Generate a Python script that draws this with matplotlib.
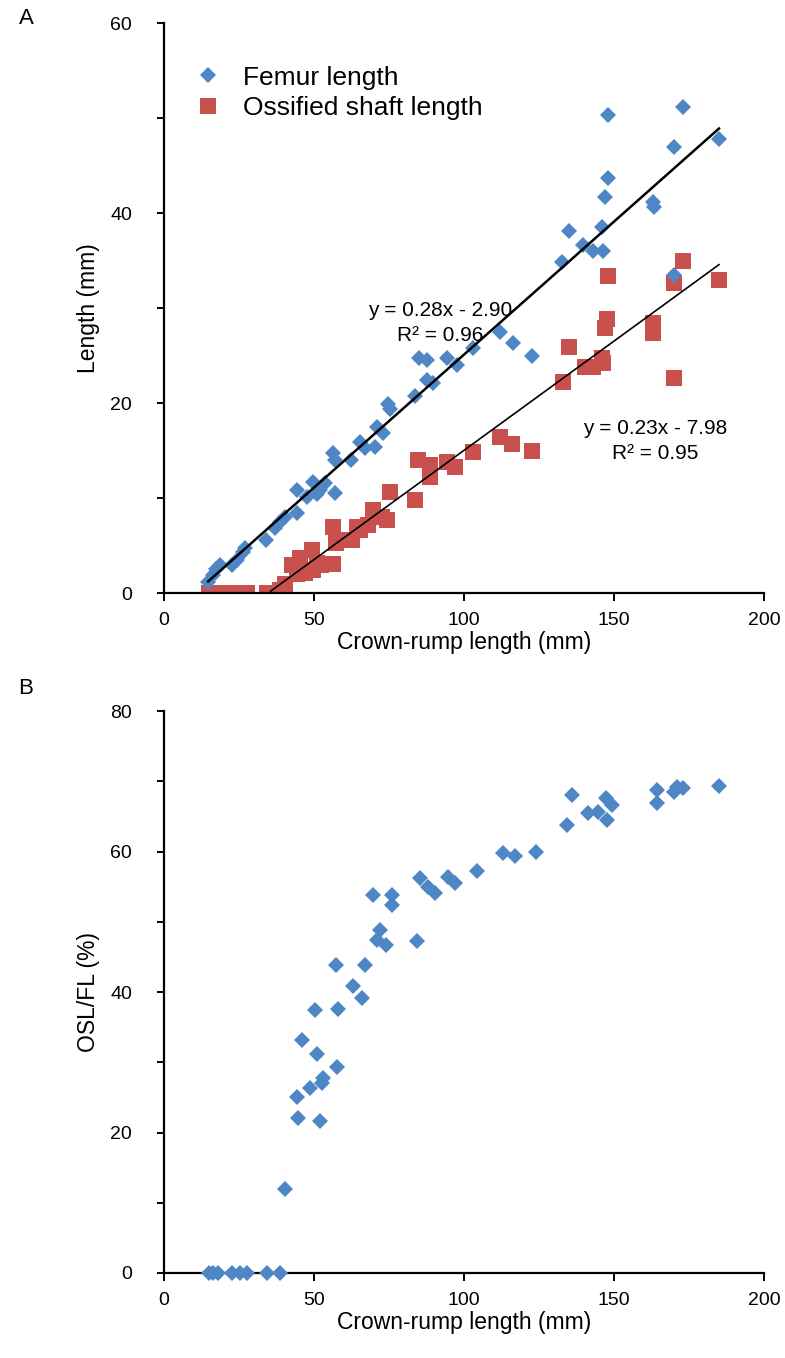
import matplotlib
matplotlib.use("Agg")
import matplotlib.pyplot as plt
import numpy as np

plt.rcParams['font.family'] = ['Liberation Sans', 'DejaVu Sans']

# ---- Panel A data: femur length (FL) vs crown-rump length (CRL) ----
crl_fl = [14.7, 16.3, 17.5, 18.7, 22.7, 24.5, 26.3, 27.0, 34.0, 37.0, 38.7, 40.3,
          44.3, 44.3, 47.7, 49.7, 51.0, 52.0, 53.7, 57.0, 56.3, 57.0, 62.5, 65.3,
          67.0, 70.3, 71.0, 73.0, 74.7, 75.3, 83.7, 85.0, 87.7, 87.7, 89.7, 94.3,
          97.7, 103.0, 112.0, 116.3, 122.7, 132.7, 135.0, 139.7, 143.0, 146.0,
          146.3, 147.0, 148.0, 148.0, 163.0, 163.3, 170.0, 170.0, 173.0, 185.0]
fl = [1.2, 1.9, 2.5, 2.9, 2.9, 3.5, 4.3, 4.7, 5.6, 6.8, 7.5, 8.0,
      8.4, 10.8, 10.1, 11.7, 10.4, 10.8, 11.6, 10.5, 14.7, 14.0, 14.0, 15.9,
      15.3, 15.4, 17.5, 16.8, 19.9, 19.4, 20.7, 24.7, 24.5, 22.4, 22.1, 24.7,
      24.0, 25.8, 27.5, 26.3, 25.0, 34.9, 38.1, 36.6, 36.0, 38.5,
      36.0, 41.7, 43.7, 50.3, 41.2, 40.6, 47.0, 33.5, 51.2, 47.8]

# ---- Panel A data: ossified shaft length (OSL) vs CRL ----
crl_osl = [15.0, 16.5, 18.0, 20.0, 22.7, 25.3, 27.7, 34.3, 38.7, 40.5, 42.7, 44.3,
           45.3, 47.0, 49.3, 49.7, 51.0, 52.5, 56.3, 56.3, 57.5, 59.3, 62.7, 64.3,
           65.3, 68.0, 69.7, 72.7, 74.3, 75.3, 83.7, 84.7, 88.7, 88.7, 94.3, 97.0,
           103.0, 112.0, 116.0, 122.7, 133.0, 135.0, 140.3, 143.0, 146.0, 146.3,
           147.0, 147.7, 148.0, 163.0, 163.0, 170.0, 170.0, 173.0, 185.0]
osl = [0.0, 0.0, 0.0, 0.0, 0.0, 0.0, 0.0, 0.0, 0.3, 1.0, 2.9, 2.0,
       3.7, 2.1, 4.5, 2.4, 3.2, 3.0, 6.9, 3.1, 5.3, 5.6, 5.6, 6.9,
       6.6, 7.2, 8.7, 8.0, 7.7, 10.6, 9.8, 14.0, 13.5, 12.2, 13.8, 13.3,
       14.8, 16.4, 15.7, 15.0, 22.2, 25.9, 23.8, 23.8, 24.7, 24.2,
       27.9, 28.9, 33.4, 28.4, 27.4, 32.6, 22.6, 35.0, 33.0]

# ---- Trend lines (as printed on chart) ----
fl_slope, fl_icpt, fl_r2 = 0.28, -2.90, 0.96
osl_slope, osl_icpt, osl_r2 = 0.23, -7.98, 0.95
fl_fit_range = [14.7, 185.0]
osl_fit_range = [35.5, 185.0]

# ---- Panel B data: OSL/FL (%) vs CRL ----
crl_ratio = [15.0, 16.5, 18.0, 22.7, 25.3, 27.7, 34.3, 38.7, 40.5, 44.3, 44.7, 46.0,
             48.7, 50.3, 51.0, 52.0, 52.7, 53.0, 57.7, 58.0, 57.3, 63.0, 66.0, 67.0,
             69.7, 71.0, 72.0, 74.0, 76.0, 76.0, 84.3, 85.3, 88.0, 90.3, 94.7, 97.0,
             104.3, 113.0, 117.0, 124.0, 134.3, 136.0, 141.3, 144.7, 147.7, 147.3,
             149.3, 164.3, 164.3, 170.0, 171.0, 173.0, 185.0]
ratio = [0, 0, 0, 0, 0, 0, 0, 0, 12.0, 25.1, 22.0, 33.2,
         26.3, 37.4, 31.2, 21.6, 27.0, 27.8, 29.3, 37.6, 43.8, 40.9, 39.1, 43.8,
         53.8, 47.4, 48.8, 46.7, 53.8, 52.4, 47.2, 56.2, 54.9, 54.1, 56.4, 55.5,
         57.2, 59.8, 59.4, 59.9, 63.8, 68.0, 65.5, 65.6, 64.5, 67.6,
         66.6, 66.9, 68.8, 68.5, 69.2, 69.0, 69.3]

blue = '#4F86C6'
red = '#C9514D'

fig = plt.figure(figsize=(7.85, 13.58), dpi=100)
axA = fig.add_axes([0.2089, 0.5633, 0.7643, 0.4197])
axB = fig.add_axes([0.2089, 0.0626, 0.7643, 0.4138])

def style(ax, ymax, ymajor):
    for s in ['top', 'right']:
        ax.spines[s].set_visible(False)
    for s in ['left', 'bottom']:
        ax.spines[s].set_linewidth(1.6)
        ax.spines[s].set_color('black')
    ax.set_xlim(0, 200)
    ax.set_ylim(0, ymax)
    ax.set_xticks(np.arange(0, 201, 50))
    ax.set_yticks(np.arange(0, ymax + 1, ymajor))
    ax.set_yticks(np.arange(0, ymax + 1, 10), minor=True)
    ax.tick_params(axis='both', which='both', direction='out', width=1.4,
                   labelsize=14, colors='black')
    ax.tick_params(axis='x', which='major', length=6, pad=8)
    ax.tick_params(axis='y', which='major', length=5, pad=18)
    ax.tick_params(axis='y', which='minor', length=5)
    ax.set_xlabel('Crown-rump length (mm)', fontsize=16.5, labelpad=1)

# Panel A
style(axA, 60, 20)
axA.plot(crl_fl, fl, linestyle='none', marker='D', ms=8.5, color=blue,
         markeredgewidth=0, label='Femur length', zorder=3)
axA.plot(crl_osl, osl, linestyle='none', marker='s', ms=11.3, color=red,
         markeredgewidth=0, label='Ossified shaft length', zorder=2)
xf = np.array(fl_fit_range)
axA.plot(xf, fl_slope * xf + fl_icpt, color='black', lw=1.8, zorder=4)
xo = np.array(osl_fit_range)
axA.plot(xo, osl_slope * xo + osl_icpt, color='black', lw=1.2, zorder=4)
axA.text(92, 28.4, f'y = {fl_slope:.2f}x - {abs(fl_icpt):.2f}\nR² = {fl_r2:.2f}',
         ha='center', va='center', fontsize=15, linespacing=1.4)
axA.text(163.7, 16.0, f'y = {osl_slope:.2f}x - {abs(osl_icpt):.2f}\nR² = {osl_r2:.2f}',
         ha='center', va='center', fontsize=15, linespacing=1.4)
axA.set_ylabel('Length (mm)', fontsize=16.5, labelpad=7)
axA.legend(loc='upper left', bbox_to_anchor=(0.033, 0.944), frameon=False,
           fontsize=19, handlelength=1.0, handletextpad=0.83, labelspacing=0.26,
           borderaxespad=0)

# Panel B
style(axB, 80, 20)
axB.plot(crl_ratio, ratio, linestyle='none', marker='D', ms=8.5, color=blue,
         markeredgewidth=0, zorder=3, clip_on=False)
axB.set_ylabel('OSL/FL (%)', fontsize=16.5, labelpad=7)

fig.text(26 / 785, 1 - 19 / 1358, 'A', fontsize=16, ha='center', va='center')
fig.text(26 / 785, 1 - 688 / 1358, 'B', fontsize=16, ha='center', va='center')

fig.savefig('out.png', dpi=100)
